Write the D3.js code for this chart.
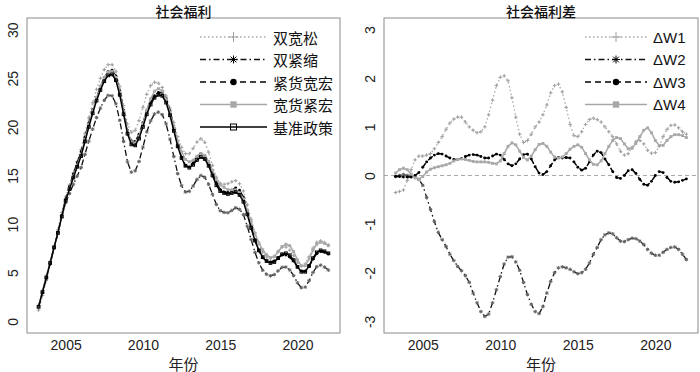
<!DOCTYPE html>
<html><head><meta charset="utf-8">
<script src="https://cdn.jsdelivr.net/npm/d3@7/dist/d3.min.js"></script>
<style>body{margin:0;background:#fff}svg{display:block}</style>
</head><body>
<svg id="c" width="700" height="372"></svg>
<script>
// ---------- data (quarterly, 2003Q2 .. 2022Q1) ----------
const startYear = 2003.25;
const baseline = [1.5,3.0,4.5,6.0,7.6,9.1,10.8,12.4,13.6,14.8,15.9,17.0,18.5,20.0,21.4,22.7,23.8,24.7,25.3,25.4,24.8,23.3,21.3,19.3,18.2,18.1,18.8,20.0,21.3,22.3,23.0,23.3,23.2,22.5,21.2,19.6,18.0,16.8,16.0,15.8,16.1,16.6,16.9,16.7,16.0,15.0,14.0,13.4,13.2,13.1,13.2,13.3,13.0,12.3,11.0,9.6,8.3,7.3,6.6,6.2,6.0,6.1,6.5,6.9,7.0,6.8,6.3,5.6,5.1,5.1,5.7,6.5,7.1,7.3,7.2,7.0];
const dW1 = [-0.35,-0.33,-0.3,-0.1,0.12,0.32,0.4,0.4,0.42,0.45,0.55,0.68,0.8,0.95,1.08,1.16,1.2,1.2,1.1,1.0,0.93,0.88,0.9,1.0,1.25,1.55,1.85,2.02,2.05,1.95,1.6,1.2,0.85,0.68,0.72,0.85,1.0,1.1,1.25,1.45,1.7,1.85,1.88,1.72,1.4,1.05,0.82,0.8,0.9,1.05,1.15,1.18,1.15,1.1,1.0,0.9,0.8,0.65,0.5,0.42,0.45,0.58,0.7,0.72,0.65,0.52,0.46,0.47,0.6,0.8,0.95,1.03,1.04,0.98,0.9,0.85];
const dW2 = [-0.02,0.0,0.02,0.0,-0.02,-0.02,-0.08,-0.2,-0.45,-0.7,-0.95,-1.17,-1.32,-1.46,-1.62,-1.75,-1.87,-1.96,-2.06,-2.2,-2.42,-2.62,-2.8,-2.9,-2.85,-2.62,-2.35,-2.08,-1.82,-1.68,-1.67,-1.78,-1.95,-2.2,-2.45,-2.65,-2.8,-2.84,-2.7,-2.42,-2.18,-2.0,-1.9,-1.88,-1.9,-1.93,-1.98,-2.02,-2.0,-1.93,-1.8,-1.62,-1.48,-1.32,-1.22,-1.18,-1.2,-1.28,-1.35,-1.36,-1.32,-1.29,-1.3,-1.35,-1.42,-1.52,-1.6,-1.64,-1.64,-1.58,-1.52,-1.48,-1.47,-1.52,-1.62,-1.73];
const dW3 = [-0.02,-0.02,-0.03,-0.03,-0.03,0.0,0.06,0.17,0.28,0.36,0.42,0.45,0.44,0.4,0.36,0.33,0.33,0.35,0.39,0.42,0.43,0.42,0.39,0.36,0.36,0.4,0.44,0.42,0.33,0.24,0.2,0.24,0.34,0.43,0.44,0.34,0.18,0.05,0.02,0.08,0.2,0.32,0.37,0.36,0.37,0.36,0.28,0.17,0.11,0.15,0.28,0.42,0.5,0.47,0.34,0.22,0.08,-0.04,-0.06,0.0,0.1,0.12,0.04,-0.08,-0.18,-0.2,-0.12,0.0,0.08,0.06,-0.04,-0.12,-0.14,-0.13,-0.1,-0.07];
const dW4 = [0.05,0.12,0.15,0.12,0.03,-0.05,-0.08,-0.02,0.07,0.13,0.16,0.18,0.2,0.22,0.25,0.3,0.33,0.34,0.33,0.31,0.29,0.28,0.28,0.28,0.27,0.25,0.24,0.3,0.45,0.6,0.67,0.63,0.5,0.37,0.32,0.4,0.53,0.64,0.66,0.6,0.48,0.38,0.36,0.38,0.45,0.54,0.6,0.63,0.58,0.45,0.32,0.23,0.22,0.3,0.45,0.6,0.72,0.78,0.76,0.65,0.55,0.56,0.66,0.8,0.93,0.98,0.88,0.72,0.62,0.62,0.72,0.8,0.84,0.84,0.82,0.78];
const years = baseline.map((_, i) => startYear + i * 0.25);
// scenario welfare = baseline + difference
const sKuanSong  = baseline.map((v, i) => v + dW1[i]);
const sJinSuo    = baseline.map((v, i) => v + dW2[i]);
const sJinHuo    = baseline.map((v, i) => v + dW3[i]);
const sKuanHuo   = baseline.map((v, i) => v + dW4[i]);

const leftNames  = ["双宽松","双紧缩","紧货宽宏","宽货紧宏","基准政策"];
const rightNames = ["ΔW1","ΔW2","ΔW3","ΔW4"];
const xTicks = [2005, 2010, 2015, 2020];
const leftYTicks = [0, 5, 10, 15, 20, 25, 30];
const rightYTicks = [-3, -2, -1, 0, 1, 2, 3];

// ---------- styles ----------
const styles = [
  {color:"#aaaaaa", dash:"1.5,2.5", marker:"plus",   mcolor:"#a0a0a0", w:1.3},
  {color:"#111111", dash:"6,3,1.5,3", marker:"star", mcolor:"#666666", w:1.3},
  {color:"#000000", dash:"6,4",     marker:"circle", mcolor:"#000000", w:1.5},
  {color:"#a8a8a8", dash:null,      marker:"square", mcolor:"#a8a8a8", w:1.5},
  {color:"#000000", dash:null,      marker:"osquare",mcolor:"#000000", w:1.5}
];

const svg = d3.select("#c");
const Y0 = 18, Y1 = 333;
const font = "'Liberation Sans', Arial, sans-serif";
const cjk = "'Noto Sans CJK SC', sans-serif";

function marker(g, type, x, y, s, col) {
  const h = s / 2;
  if (type === "plus") {
    g.append("path").attr("d", `M${x-h},${y}H${x+h}M${x},${y-h}V${y+h}`)
      .attr("stroke", col).attr("stroke-width", 1).attr("fill", "none");
  } else if (type === "star") {
    const d = h * 0.72;
    g.append("path").attr("d", `M${x-h},${y}H${x+h}M${x},${y-h}V${y+h}M${x-d},${y-d}L${x+d},${y+d}M${x-d},${y+d}L${x+d},${y-d}`)
      .attr("stroke", col).attr("stroke-width", 1).attr("fill", "none");
  } else if (type === "circle") {
    g.append("circle").attr("cx", x).attr("cy", y).attr("r", h * 0.8).attr("fill", col);
  } else if (type === "square") {
    g.append("rect").attr("x", x - h*0.8).attr("y", y - h*0.8).attr("width", s*0.8).attr("height", s*0.8).attr("fill", col);
  } else if (type === "osquare") {
    g.append("rect").attr("x", x - h*0.75).attr("y", y - h*0.75).attr("width", s*0.75).attr("height", s*0.75)
      .attr("fill", "none").attr("stroke", col).attr("stroke-width", 1);
  }
}

function panel(cfg) {
  const x = d3.scaleLinear().domain([2002.5, 2022.75]).range([cfg.x0, cfg.x1]);
  const y = d3.scaleLinear().domain(cfg.ydom).range([Y1, Y0]);
  const g = svg.append("g");

  if (cfg.zero) {
    g.append("line").attr("x1", cfg.x0).attr("x2", cfg.x1).attr("y1", y(0)).attr("y2", y(0))
      .attr("stroke", "#aaaaaa").attr("stroke-width", 1).attr("stroke-dasharray", "4,3");
  }

  cfg.series.forEach((vals, k) => {
    const st = cfg.styles[k];
    const line = d3.line().x((d, i) => x(years[i])).y(d => y(d));
    g.append("path").datum(vals).attr("d", line).attr("fill", "none")
      .attr("stroke", st.color).attr("stroke-width", st.w)
      .attr("stroke-dasharray", st.dash);
    const mg = g.append("g");
    vals.forEach((v, i) => marker(mg, st.marker, x(years[i]), y(v), 3.6, st.mcolor));
  });

  // box
  g.append("rect").attr("x", cfg.x0).attr("y", Y0).attr("width", cfg.x1 - cfg.x0).attr("height", Y1 - Y0)
    .attr("fill", "none").attr("stroke", "#8a8a8a").attr("stroke-width", 1);

  // axes
  const ax = g.append("g").attr("transform", `translate(0,${Y1})`)
    .call(d3.axisBottom(x).tickValues(xTicks).tickFormat(d => String(d)).tickSize(0).tickPadding(7));
  ax.select(".domain").remove();
  ax.selectAll("text").attr("font-family", font).attr("font-size", 14).attr("fill", "#222");

  const ay = g.append("g").attr("transform", `translate(${cfg.x0},0)`)
    .call(d3.axisLeft(y).tickValues(cfg.yticks).tickFormat(d => String(d)).tickSize(0).tickPadding(0));
  ay.select(".domain").remove();
  ay.selectAll("text").attr("font-family", font).attr("font-size", 14).attr("fill", "#222")
    .attr("text-anchor", "middle").attr("dy", null).attr("x", null)
    .attr("transform", "translate(-14,0) rotate(-90)")
    .attr("dominant-baseline", "central");

  // titles
  const cx = (cfg.x0 + cfg.x1) / 2;
  g.append("text").attr("x", cx).attr("y", 10.5).attr("text-anchor", "middle").attr("dominant-baseline", "central")
    .attr("font-family", cjk).attr("font-size", 14).attr("font-weight", 500).attr("fill", "#111").text(cfg.title);
  g.append("text").attr("x", cx).attr("y", 363).attr("text-anchor", "middle").attr("dominant-baseline", "central")
    .attr("font-family", cjk).attr("font-size", 15).attr("fill", "#222").text("年份");

  // legend
  const lg = g.append("g");
  cfg.names.forEach((n, k) => {
    const st = cfg.styles[k];
    const yy = 37 + k * 22.5;
    lg.append("line").attr("x1", cfg.lx0).attr("x2", cfg.lx1).attr("y1", yy).attr("y2", yy)
      .attr("stroke", st.color).attr("stroke-width", st.w).attr("stroke-dasharray", st.dash);
    const mk = st.marker === "star" ? "#000" : st.mcolor;
    marker(lg, st.marker, (cfg.lx0 + cfg.lx1) / 2, yy, st.marker === "plus" ? 10 : 8, mk);
    lg.append("text").attr("x", cfg.lx1 + 6).attr("y", yy).attr("dominant-baseline", "central")
      .attr("font-family", cfg.lfont).attr("font-size", 15).attr("fill", "#111").text(n);
  });
}

panel({x0:27, x1:340, ydom:[-1.2, 31.2], yticks:leftYTicks, title:"社会福利",
  series:[sKuanSong, sJinSuo, sJinHuo, sKuanHuo, baseline], styles:styles,
  names:leftNames, lx0:200, lx1:267, lfont:cjk});
panel({x0:384, x1:698, ydom:[-3.24, 3.24], yticks:rightYTicks, title:"社会福利差", zero:true,
  series:[dW1, dW2, dW3, dW4], styles:styles.slice(0,4),
  names:rightNames, lx0:585, lx1:647, lfont:font});
</script>
</body></html>
